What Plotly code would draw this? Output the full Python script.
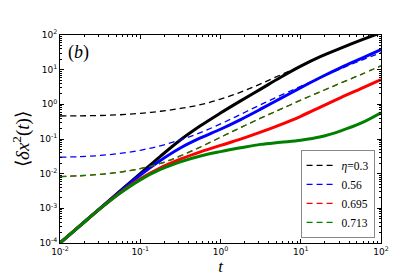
import plotly.graph_objects as go

# quarter-decade time grid
t = [0.01, 0.0178, 0.0316, 0.0562, 0.1, 0.178, 0.316, 0.562, 1.0, 1.78, 3.16, 5.62,
     10.0, 17.8, 31.6, 56.2, 100.0]

# solid curves
black_solid = [1.0e-4, 3.16e-4, 1.0e-3, 3.16e-3, 0.0100, 0.0316, 0.0933, 0.240, 0.562, 1.26,
               2.75, 6.03, 12.6, 24.0, 41.7, 70.8, 117]
blue_solid = [1.0e-4, 3.16e-4, 1.0e-3, 3.02e-3, 9.12e-3, 0.0240, 0.0550, 0.107, 0.191, 0.363,
              0.724, 1.48, 3.02, 6.03, 11.5, 20.9, 38.0]
red_solid = [1.0e-4, 3.16e-4, 9.77e-4, 2.82e-3, 7.08e-3, 0.0148, 0.0263, 0.0427, 0.0653, 0.0989,
             0.157, 0.260, 0.452, 0.841, 1.57, 2.85, 5.19]
green_solid = [1.0e-4, 3.16e-4, 9.77e-4, 2.75e-3, 6.61e-3, 0.0132, 0.0219, 0.0324, 0.0432, 0.0556,
               0.0700, 0.0804, 0.0923, 0.116, 0.172, 0.285, 0.569]

# dashed curves
black_dash = [0.461, 0.466, 0.476, 0.501, 0.550, 0.631, 0.759, 0.977, 1.41, 2.24,
              3.89, 7.08, 12.6, 24.0, 41.7, 70.8, 117]
blue_dash = [0.0300, 0.0309, 0.0335, 0.0385, 0.0473, 0.0638, 0.0944, 0.153, 0.272, 0.513,
             0.977, 1.82, 3.31, 6.03, 10.7, 18.4, 30.9]
red_dash = [0.00824, 0.00871, 0.00955, 0.0111, 0.0140, 0.0197, 0.0324, 0.0589, 0.112, 0.214,
            0.398, 0.724, 1.32, 2.34, 4.14, 7.24, 12.9]
green_dash = [0.00824, 0.00871, 0.00955, 0.0111, 0.0140, 0.0197, 0.0324, 0.0589, 0.112, 0.214,
              0.398, 0.724, 1.32, 2.34, 4.14, 7.24, 12.9]

labels = ["<i>η</i>=0.3", "0.56", "0.695", "0.713"]
colors = ["black", "#0000ff", "#ff0000", "#008000"]

x_tickvals = [0.01, 0.1, 1, 10, 100]
x_ticktext = ["10<sup>-2</sup>", "10<sup>-1</sup>", "10<sup>0</sup>", "10<sup>1</sup>", "10<sup>2</sup>"]
y_tickvals = [1e-4, 1e-3, 1e-2, 1e-1, 1, 10, 100]
y_ticktext = ["10<sup>-4</sup>", "10<sup>-3</sup>", "10<sup>-2</sup>", "10<sup>-1</sup>",
              "10<sup>0</sup>", "10<sup>1</sup>", "10<sup>2</sup>"]

solids = [black_solid, blue_solid, red_solid, green_solid]
dashes = [black_dash, blue_dash, red_dash, green_dash]

fig = go.Figure()
for ys, c in zip(solids, colors):
    fig.add_trace(go.Scatter(x=t, y=ys, mode="lines", showlegend=False,
                             line=dict(color=c, width=3, shape="spline", smoothing=1)))
for ys, c, lab in zip(dashes, colors, labels):
    fig.add_trace(go.Scatter(x=t, y=ys, mode="lines", name=lab,
                             line=dict(color=c, width=1.3, dash="6px,4px", shape="spline", smoothing=1)))

axis_common = dict(
    type="log", showline=True, linecolor="black", linewidth=1, mirror="allticks",
    ticks="inside", ticklen=4, tickcolor="black", showgrid=False, zeroline=False,
    tickfont=dict(family="DejaVu Sans", size=9, color="black"),
    minor=dict(ticks="inside", ticklen=2, tickcolor="black", dtick="D1", showgrid=False),
)

fig.update_xaxes(range=[-2, 2], tickvals=x_tickvals, ticktext=x_ticktext,
                 title=dict(text="<i>t</i>", font=dict(family="Liberation Serif", size=17, color="black"), standoff=4),
                 **axis_common)
fig.update_yaxes(range=[-4, 2], tickvals=y_tickvals, ticktext=y_ticktext,
                 title=dict(text="⟨<i>δx</i><sup>2</sup>(<i>t</i>)⟩", font=dict(family="Liberation Serif", size=19, color="black"), standoff=4),
                 **axis_common)

fig.add_annotation(x=0.02, y=0.975, xref="paper", yref="paper", xanchor="left", yanchor="top",
                   text="(<i>b</i>)", showarrow=False,
                   font=dict(family="Liberation Serif", size=18, color="black"))

fig.update_layout(
    width=415, height=277,
    margin=dict(l=52, r=42, t=27, b=36),
    paper_bgcolor="white", plot_bgcolor="white",
    legend=dict(x=0.98, y=0.025, xanchor="right", yanchor="bottom",
                bgcolor="white", bordercolor="#888888", borderwidth=1,
                font=dict(family="Liberation Serif", size=11.5, color="black"),
                itemwidth=30, tracegroupgap=0),
)

fig.write_html("out.html")
